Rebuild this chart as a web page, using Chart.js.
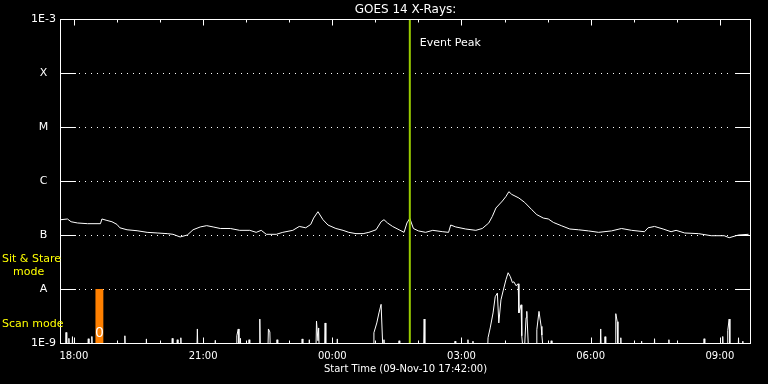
<!DOCTYPE html>
<html>
<head>
<meta charset="utf-8">
<script src="https://cdn.jsdelivr.net/npm/chart.js@4/dist/chart.umd.min.js"></script>
<style>
  html, body { margin: 0; padding: 0; background: #000; }
  canvas { display: block; }
</style>
</head>
<body>
<canvas id="goes" width="768" height="384"></canvas>
<script>
// minutes after the start time (09-Nov-10 17:42), 16 hours shown
const startLabel = 'Start Time (09-Nov-10 17:42:00)';

// 1-8 A channel (W/m^2)
const longTimes = [0, 9, 14, 23, 37, 55, 57, 64, 71, 78, 82, 92, 106, 120, 134, 148, 156, 166, 176, 184,
  194, 203, 212, 222, 236, 249, 263, 272, 279, 286, 300, 309, 323, 332, 341, 348, 352, 358, 365, 372,
  383, 393, 401, 411, 421, 429, 439, 446, 450, 455, 462, 471, 478, 482, 486, 491, 498, 508, 518, 532,
  540, 543, 550, 564, 578, 587, 596, 601, 606, 615, 620, 624, 628, 638, 646, 656, 663, 672, 679, 686,
  697, 709, 721, 735, 749, 767, 781, 795, 813, 818, 827, 839, 850, 857, 869, 888, 906, 924, 931, 944, 958];
const longFlux = [1.92e-7, 1.98e-7, 1.76e-7, 1.67e-7, 1.62e-7, 1.62e-7, 1.98e-7, 1.86e-7, 1.76e-7, 1.57e-7,
  1.36e-7, 1.25e-7, 1.20e-7, 1.12e-7, 1.09e-7, 1.06e-7, 1.03e-7, 0.92e-7, 1.00e-7, 1.25e-7,
  1.41e-7, 1.49e-7, 1.41e-7, 1.32e-7, 1.32e-7, 1.22e-7, 1.22e-7, 1.12e-7, 1.22e-7, 1.03e-7,
  1.03e-7, 1.12e-7, 1.22e-7, 1.44e-7, 1.36e-7, 1.57e-7, 2.06e-7, 2.70e-7, 1.92e-7, 1.53e-7,
  1.32e-7, 1.22e-7, 1.12e-7, 1.06e-7, 1.06e-7, 1.12e-7, 1.25e-7, 1.76e-7, 1.92e-7, 1.67e-7,
  1.44e-7, 1.25e-7, 1.12e-7, 1.67e-7, 2.03e-7, 1.32e-7, 1.19e-7, 1.12e-7, 1.22e-7, 1.15e-7,
  1.12e-7, 1.53e-7, 1.41e-7, 1.29e-7, 1.22e-7, 1.32e-7, 1.67e-7, 2.21e-7, 3.16e-7, 4.26e-7,
  5.18e-7, 6.34e-7, 5.65e-7, 4.84e-7, 4.02e-7, 2.94e-7, 2.38e-7, 2.06e-7, 1.98e-7, 1.71e-7,
  1.49e-7, 1.29e-7, 1.25e-7, 1.19e-7, 1.12e-7, 1.19e-7, 1.32e-7, 1.22e-7, 1.15e-7, 1.36e-7,
  1.44e-7, 1.29e-7, 1.15e-7, 1.22e-7, 1.09e-7, 1.06e-7, 0.97e-7, 0.97e-7, 0.89e-7, 1.00e-7, 1.03e-7];

// 0.5-4 A channel, mostly under the 1E-9 floor with short bursts
const shortTimes = [0,
  6, 7, 8,  10, 11, 12,  15, 16, 17,  37, 38, 39,  42, 43, 44,  88, 89, 90,
  118, 119, 120,  154, 155, 156,  161, 162, 163,  166, 167, 168,  189, 190, 191,
  214, 215, 216,  244, 245, 247, 248,  250, 251,  261, 262, 263,  276, 277, 278,
  288, 289, 291, 292,  300, 301, 302,  335, 336, 337,  345, 346, 347,
  355, 356, 358, 359, 360,  367, 368, 369,  384, 385, 386,
  435, 436, 440, 443, 446, 449, 450, 451,  470, 471, 472,  505, 506, 507,
  548, 549, 550,  566, 567, 568,  573, 574, 575,
  594, 595, 598, 602, 605, 608, 610, 613, 616, 620, 623, 626, 629, 631, 634, 637, 638, 641, 642, 645, 648, 649, 652,
  662, 663, 666, 669, 670, 673,  682, 683, 684,  751, 752, 753,  757, 758, 759,
  772, 773, 775, 776,  779, 780, 781,  808, 809, 810,  826, 827, 828,  846, 847, 848,
  895, 896, 897,  921, 922, 923,  928, 929, 931, 932,  943, 944, 945,  949, 950, 951,
  960];
const shortFlux = [5e-10,
  5e-10, 1.57e-9, 5e-10,  5e-10, 1.22e-9, 5e-10,  5e-10, 1.31e-9, 5e-10,  5e-10, 1.2e-9, 5e-10,  5e-10, 1.32e-9, 5e-10,  5e-10, 1.36e-9, 5e-10,
  5e-10, 1.19e-9, 5e-10,  5e-10, 1.22e-9, 5e-10,  5e-10, 1.15e-9, 5e-10,  5e-10, 1.25e-9, 5e-10,  5e-10, 1.82e-9, 5e-10,
  5e-10, 1.12e-9, 5e-10,  5e-10, 1.36e-9, 1.82e-9, 5e-10,  1.22e-9, 5e-10,  5e-10, 1.15e-9, 5e-10,  5e-10, 2.78e-9, 5e-10,
  5e-10, 1.82e-9, 1.6e-9, 5e-10,  5e-10, 1.15e-9, 5e-10,  5e-10, 1.19e-9, 5e-10,  5e-10, 1.15e-9, 5e-10,
  5e-10, 2.55e-9, 1.1e-9, 1.9e-9, 5e-10,  5e-10, 2.35e-9, 5e-10,  5e-10, 1.19e-9, 5e-10,
  5e-10, 1.55e-9, 2.35e-9, 3.6e-9, 5.2e-9, 5e-10, 1.15e-9, 5e-10,  5e-10, 1.1e-9, 5e-10,  5e-10, 2.78e-9, 5e-10,
  5e-10, 1.08e-9, 5e-10,  5e-10, 1.15e-9, 5e-10,  5e-10, 1.08e-9, 5e-10,
  5e-10, 1.25e-9, 1.9e-9, 3.6e-9, 7.2e-9, 8.4e-9, 2.35e-9, 6.3e-9, 9.2e-9, 1.49e-8, 2.0e-8, 1.7e-8, 1.31e-8, 1.36e-8, 1.15e-8, 1.25e-8, 3.6e-9, 5.1e-9, 1.36e-9, 5e-10, 2.94e-9, 3.85e-9, 5e-10,
  5e-10, 1.76e-9, 3.85e-9, 2.03e-9, 1.4e-9, 5e-10,  5e-10, 1.1e-9, 5e-10,  5e-10, 1.82e-9, 5e-10,  5e-10, 1.31e-9, 5e-10,
  5e-10, 3.49e-9, 2.48e-9, 5e-10,  5e-10, 1.25e-9, 5e-10,  5e-10, 1.08e-9, 5e-10,  5e-10, 1.2e-9, 5e-10,  5e-10, 1.15e-9, 5e-10,
  5e-10, 1.2e-9, 5e-10,  5e-10, 1.32e-9, 5e-10,  5e-10, 1.71e-9, 2.78e-9, 5e-10,  5e-10, 1.25e-9, 5e-10,  5e-10, 1.08e-9, 5e-10,
  5e-10];

// axes
const yTickValues = [1e-9, 1e-8, 1e-7, 1e-6, 1e-5, 1e-4, 1e-3];
const yTickLabels = ['1E-9', 'A', 'B', 'C', 'M', 'X', '1E-3'];
const hourTicks = [18, 78, 138, 198, 258, 318, 378, 438, 498, 558, 618, 678, 738, 798, 858, 918];
const hourLabels = ['18:00', '', '', '21:00', '', '', '00:00', '', '', '03:00', '', '', '06:00', '', '', '09:00'];

// markers
const eventPeakTime = 486;
const scanBarStart = 48, scanBarEnd = 59;

const FONT = 'DejaVu Sans';

const goesDecor = {
  id: 'goesDecor',
  beforeDraw(chart) {
    const ctx = chart.ctx;
    ctx.save();
    ctx.fillStyle = '#000';
    ctx.fillRect(0, 0, chart.width, chart.height);
    ctx.restore();
  },
  beforeDatasetsDraw(chart) {
    const {ctx, chartArea: a, scales: {y}} = chart;
    const L = Math.round(a.left), R = Math.round(a.right);
    ctx.save();
    ctx.strokeStyle = '#fff';
    ctx.lineWidth = 1;
    yTickValues.slice(1, -1).forEach(v => {
      const py = Math.round(y.getPixelForValue(v)) + 0.5;
      ctx.setLineDash([]);
      ctx.beginPath();
      ctx.moveTo(L, py); ctx.lineTo(L + 15, py);
      ctx.moveTo(R - 15, py); ctx.lineTo(R, py);
      ctx.stroke();
      ctx.setLineDash([1, 5]);
      ctx.beginPath();
      ctx.moveTo(L + 18, py); ctx.lineTo(R - 18, py);
      ctx.stroke();
    });
    ctx.restore();
  },
  afterDatasetsDraw(chart) {
    const {ctx, chartArea: a, scales: {x, y}} = chart;
    const L = Math.round(a.left) - 0.5, R = Math.round(a.right) + 0.5;
    const T = Math.round(a.top) + 0.5, B = Math.round(a.bottom) + 0.5;
    ctx.save();

    // scan-mode bar
    const bx0 = x.getPixelForValue(scanBarStart), bx1 = x.getPixelForValue(scanBarEnd);
    const by0 = y.getPixelForValue(1e-8), by1 = y.getPixelForValue(1e-9);
    ctx.fillStyle = '#ff8000';
    ctx.fillRect(bx0, by0, bx1 - bx0, by1 - by0);
    ctx.fillStyle = '#fff';
    ctx.font = '14px "' + FONT + '"';
    ctx.textAlign = 'center';
    ctx.textBaseline = 'middle';
    ctx.fillText('0', (bx0 + bx1) / 2, by1 - 10);

    // frame
    ctx.strokeStyle = '#fff';
    ctx.lineWidth = 1;
    ctx.setLineDash([]);
    ctx.strokeRect(L, T, R - L, B - T);

    // hour tick marks, inward on top and bottom
    ctx.beginPath();
    x.ticks.forEach((t, i) => {
      const px = Math.round(x.getPixelForValue(t.value)) + 0.5;
      const len = hourLabels[i] ? 6 : 3;
      ctx.moveTo(px, T); ctx.lineTo(px, T + len);
      ctx.moveTo(px, B); ctx.lineTo(px, B - len);
    });
    ctx.stroke();

    // texts
    ctx.fillStyle = '#fff';
    ctx.textAlign = 'center';
    ctx.font = '12px "' + FONT + '"';
    ctx.fillText('GOES 14 X-Rays:', (a.left + a.right) / 2, 10);
    ctx.font = '11px "' + FONT + '"';
    ctx.textAlign = 'left';
    ctx.fillText('Event Peak', x.getPixelForValue(eventPeakTime) + 10, 43);

    ctx.fillStyle = '#ffff00';
    ctx.fillText('Sit & Stare', 2, 259);
    ctx.fillText('mode', 13, 272);
    ctx.fillText('Scan mode', 2, 324);
    ctx.restore();
  }
};

new Chart(document.getElementById('goes'), {
  type: 'line',
  data: {
    datasets: [
      {
        label: 'Event Peak',
        data: [{x: eventPeakTime, y: 1e-9}, {x: eventPeakTime, y: 1e-3}],
        borderColor: '#99cc00',
        borderWidth: 2,
        pointRadius: 0
      },
      {
        label: '1-8 A',
        data: longTimes.map((t, i) => ({x: t, y: longFlux[i]})),
        borderColor: '#fff',
        borderWidth: 1,
        pointRadius: 0,
        tension: 0
      },
      {
        label: '0.5-4 A',
        data: shortTimes.map((t, i) => ({x: t, y: shortFlux[i]})),
        borderColor: '#fff',
        borderWidth: 1,
        pointRadius: 0,
        tension: 0
      }
    ]
  },
  options: {
    responsive: false,
    animation: false,
    devicePixelRatio: 1,
    layout: { padding: { top: 19, right: 18, left: 0, bottom: 0 } },
    plugins: {
      legend: { display: false },
      tooltip: { enabled: false },
      title: { display: false }
    },
    scales: {
      x: {
        type: 'linear',
        min: 0,
        max: 960,
        afterBuildTicks: s => { s.ticks = hourTicks.map(v => ({value: v})); },
        afterFit: s => { s.height = 41; },
        grid: { display: false, drawTicks: false },
        border: { display: false },
        ticks: {
          color: '#fff',
          font: { family: FONT, size: 10 },
          autoSkip: false,
          maxRotation: 0,
          padding: 7,
          callback: (v, i) => hourLabels[i]
        },
        title: {
          display: true,
          text: startLabel,
          color: '#fff',
          font: { family: FONT, size: 10 },
          padding: { top: 0, bottom: 9 }
        }
      },
      y: {
        type: 'logarithmic',
        min: 1e-9,
        max: 1e-3,
        afterBuildTicks: s => { s.ticks = yTickValues.map(v => ({value: v})); },
        afterFit: s => { s.width = 61; },
        grid: { display: false, drawTicks: false },
        border: { display: false },
        ticks: {
          color: '#fff',
          font: { family: FONT, size: 11 },
          crossAlign: 'center',
          padding: 5,
          callback: (v, i) => yTickLabels[i]
        }
      }
    }
  },
  plugins: [goesDecor]
});
</script>
</body>
</html>
